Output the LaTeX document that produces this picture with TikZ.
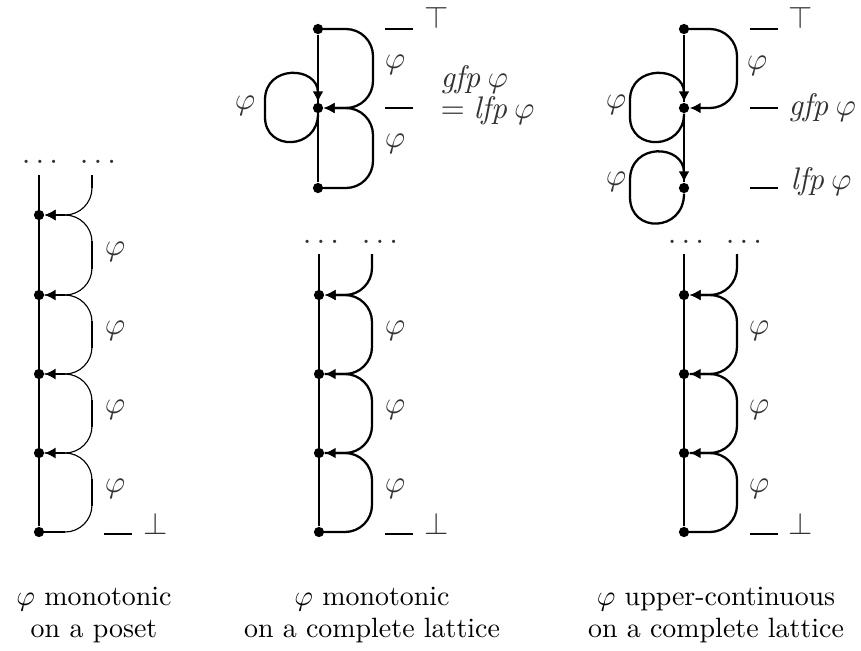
\documentclass[tikz,border=0pt]{standalone}
\usetikzlibrary{arrows.meta}
\begin{document}
\begin{tikzpicture}[x=0.351pt,y=-0.351pt,
  dot/.style={circle,fill=black,inner sep=0pt,minimum size=3.6pt},
  mainline/.style={line width=0.85pt},
  arcthin/.style={line width=0.4pt,rounded corners=9.5pt},
  arcmid/.style={line width=0.8pt,rounded corners=9.5pt},
  loopline/.style={line width=0.8pt},
  tip/.style={-{Latex[length=3.8pt,width=3.8pt]}},
  seg/.style={line width=1.0pt},
  tick/.style={line width=0.85pt},
  lbl/.style={inner sep=0pt,text=black!80,font=\fontsize{10.8}{13}\selectfont},
  captext/.style={inner sep=0pt,anchor=base,font=\fontsize{9.8}{12}\selectfont},
  ]
\useasboundingbox (0,0) rectangle (861,650);

% ================= LEFT COLUMN =================
\coordinate (Ltop) at (39,175);
\coordinate (Lrt) at (92,175);
\node[dot] (L0) at (39,532) {};
\node[dot] (L1) at (39,453) {};
\node[dot] (L2) at (39,374) {};
\node[dot] (L3) at (39,295) {};
\node[dot] (L4) at (39,215) {};
\draw[mainline] (Ltop) -- (L0);
\draw[arcthin,tip] (L0) -- (92,532) -- (92,453) -- (L1);
\draw[arcthin,tip] (L1) -- (92,453) -- (92,374) -- (L2);
\draw[arcthin,tip] (L2) -- (92,374) -- (92,295) -- (L3);
\draw[arcthin,tip] (L3) -- (92,295) -- (92,215) -- (L4);
\draw[arcthin,tip] (Lrt) -- (92,215) -- (L4);
\foreach \y in {532,453,374,295,215} \draw[seg] (55,\y) -- (65,\y);
\draw[seg] (44,532) -- (65,532);
\foreach \a/\b in {453/532,374/453,295/374,215/295} \draw[seg] (92,\a+26) -- (92,\b-26);
\draw[seg] (92,175) -- (92,188);
\node[lbl,anchor=base] (Ldl) at (40,163) {$\ldots$};
\node[lbl,anchor=base] (Ldr) at (98,163) {$\ldots$};
\node[lbl] (Lp1) at (115,252) {$\varphi$};
\node[lbl] (Lp2) at (115,331) {$\varphi$};
\node[lbl] (Lp3) at (115,410) {$\varphi$};
\node[lbl] (Lp4) at (115,489) {$\varphi$};
\draw[tick] (104,534) -- (132,534);
\node[lbl,anchor=base] (Lbot) at (156,534) {$\bot$};
\node[captext] (capL1) at (94,605) {$\varphi$ monotonic};
\node[captext] (capL2) at (94,637) {on a poset};

% ================= MIDDLE COLUMN =================
% upper part
\node[dot] (MT) at (318,29) {};
\node[dot] (MG) at (318,108) {};
\node[dot] (MB) at (318,188) {};
\draw[mainline] (MT) -- (MB);
\draw[arcmid,tip] (MT) -- (373,29) -- (373,108) -- (MG);
\draw[arcmid,tip] (MB) -- (373,188) -- (373,108) -- (MG);
\draw[loopline,tip] (MG) .. controls (318,150) and (265,152) .. (265,117) -- (265,100) .. controls (265,64) and (318,66) .. (MG);
\draw[seg] (265,99) -- (265,118);
\draw[seg] (373,55) -- (373,82);
\draw[seg] (373,134) -- (373,162);
\foreach \y in {29,188} \draw[seg] (323,\y) -- (346,\y);
\draw[tick] (385,29) -- (413,29);
\draw[tick] (385,108) -- (413,108);
\node[lbl,anchor=base] (MTop) at (437,28) {$\top$};
\node[lbl] (Mp1) at (395,65) {$\varphi$};
\node[lbl] (Mp2) at (395,144) {$\varphi$};
\node[lbl] (Mp0) at (245,106) {$\varphi$};
\node[lbl,anchor=base west] (Mgfp) at (440,87) {$\mathit{gfp}\,\varphi$};
\node[lbl,anchor=base west] (Mlfp) at (440,118) {$=\mathit{lfp}\,\varphi$};
% lower part
\coordinate (Mtop) at (319,254);
\coordinate (Mrt) at (372,254);
\node[dot] (M0) at (319,532) {};
\node[dot] (M1) at (319,453) {};
\node[dot] (M2) at (319,374) {};
\node[dot] (M3) at (319,295) {};
\draw[mainline] (Mtop) -- (M0);
\draw[arcmid,tip] (M0) -- (372,532) -- (372,453) -- (M1);
\draw[arcmid,tip] (M1) -- (372,453) -- (372,374) -- (M2);
\draw[arcmid,tip] (M2) -- (372,374) -- (372,295) -- (M3);
\draw[arcmid,tip] (Mrt) -- (372,295) -- (M3);
\foreach \y in {453,374,295} \draw[seg] (335,\y) -- (346,\y);
\draw[seg] (324,532) -- (346,532);
\foreach \a/\b in {374/453,295/374} \draw[seg] (372,\a+26) -- (372,\b-26);
\draw[seg] (372,479) -- (372,506);
\draw[seg] (372,254) -- (372,268);
\node[lbl,anchor=base] (Mdl) at (321,243) {$\ldots$};
\node[lbl,anchor=base] (Mdr) at (380,243) {$\ldots$};
\node[lbl] (Mp3) at (395,331) {$\varphi$};
\node[lbl] (Mp4) at (395,410) {$\varphi$};
\node[lbl] (Mp5) at (395,489) {$\varphi$};
\draw[tick] (385,534) -- (413,534);
\node[lbl,anchor=base] (Mbot) at (437,534) {$\bot$};
\node[captext] (capM1) at (372,605) {$\varphi$ monotonic};
\node[captext] (capM2) at (372,637) {on a complete lattice};

% ================= RIGHT COLUMN =================
\node[dot] (RT) at (684,29) {};
\node[dot] (RG) at (684,108) {};
\node[dot] (RB) at (684,188) {};
\draw[mainline] (RT) -- (RG);
\draw[loopline] (RG) -- (RB);
\draw[arcmid,tip] (RT) -- (737,29) -- (737,108) -- (RG);
\draw[loopline,tip] (RG) .. controls (684,150) and (630,152) .. (630,117) -- (630,100) .. controls (630,64) and (684,66) .. (RG);
\draw[loopline,tip] (RB) .. controls (684,232) and (630,234) .. (630,197) -- (630,180) .. controls (630,142) and (684,144) .. (RB);
\draw[seg] (630,99) -- (630,118);
\draw[seg] (630,178) -- (630,198);
\draw[seg] (737,55) -- (737,82);
\draw[seg] (689,29) -- (711,29);
\draw[tick] (750,29) -- (778,29);
\draw[tick] (750,108) -- (778,108);
\draw[tick] (750,188) -- (778,188);
\node[lbl,anchor=base] (RTop) at (801,28) {$\top$};
\node[lbl] (Rp1) at (757,66) {$\varphi$};
\node[lbl] (Rp0) at (616,105) {$\varphi$};
\node[lbl] (Rp00) at (616,182) {$\varphi$};
\node[lbl,anchor=base west] (Rgfp) at (788,115) {$\mathit{gfp}\,\varphi$};
\node[lbl,anchor=base west] (Rlfp) at (790,189) {$\mathit{lfp}\,\varphi$};
% lower part
\coordinate (Rtop) at (684,254);
\coordinate (Rrt) at (737,254);
\node[dot] (R0) at (684,532) {};
\node[dot] (R1) at (684,453) {};
\node[dot] (R2) at (684,374) {};
\node[dot] (R3) at (684,295) {};
\draw[line width=0.55pt] (Rtop) -- (R0);
\draw[arcmid,tip] (R0) -- (737,532) -- (737,453) -- (R1);
\draw[arcmid,tip] (R1) -- (737,453) -- (737,374) -- (R2);
\draw[arcmid,tip] (R2) -- (737,374) -- (737,295) -- (R3);
\draw[arcmid,tip] (Rrt) -- (737,295) -- (R3);
\foreach \y in {453,374,295} \draw[seg] (700,\y) -- (711,\y);
\draw[seg] (689,532) -- (711,532);
\foreach \a/\b in {374/453,295/374} \draw[seg] (737,\a+26) -- (737,\b-26);
\draw[seg] (737,479) -- (737,506);
\draw[seg] (737,254) -- (737,268);
\node[lbl,anchor=base] (Rdl) at (686,243) {$\ldots$};
\node[lbl,anchor=base] (Rdr) at (744,243) {$\ldots$};
\node[lbl] (Rp3) at (759,331) {$\varphi$};
\node[lbl] (Rp4) at (759,410) {$\varphi$};
\node[lbl] (Rp5) at (759,489) {$\varphi$};
\draw[tick] (750,534) -- (778,534);
\node[lbl,anchor=base] (Rbot) at (801,534) {$\bot$};
\node[captext] (capR1) at (716,605) {$\varphi$ upper-continuous};
\node[captext] (capR2) at (716,637) {on a complete lattice};
\end{tikzpicture}
\end{document}
